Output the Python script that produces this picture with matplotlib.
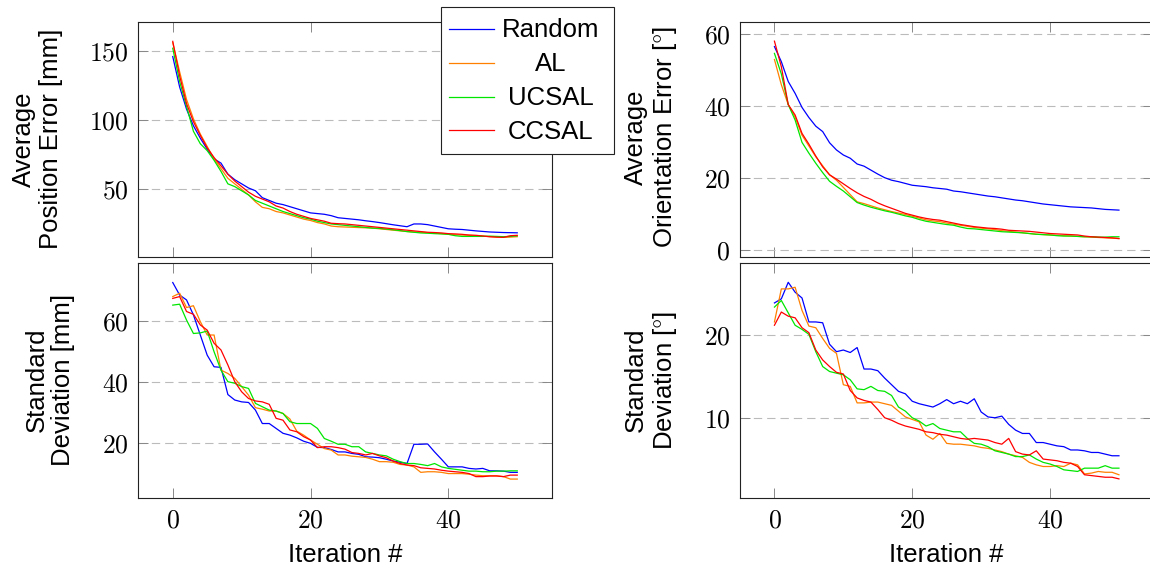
import matplotlib
matplotlib.use("Agg")
import matplotlib.pyplot as plt
from matplotlib.ticker import MultipleLocator, FuncFormatter
from matplotlib.lines import Line2D
from matplotlib.patches import Rectangle
import numpy as np

# iteration index 0..50
iterations = np.arange(51)
methods = ["Random", "AL", "UCSAL", "CCSAL"]
colors = ["#0000ff", "#ff8000", "#00e600", "#ff0000"]

# average position error [mm]
pos_mean_random = [146, 124, 108, 96, 87, 79, 72, 69, 61, 57, 54, 51, 49, 44, 42, 40, 39, 37.5, 36, 34.5,
                   33, 32.5, 32, 31, 29.5, 29, 28.5, 28, 27.3, 26.7, 26, 25.2, 24.4, 23.7, 23, 25, 25, 24.5, 23.5, 22.5,
                   21.5, 21.2, 21, 20.5, 20, 19.6, 19.2, 19, 18.8, 18.7, 18.6]
pos_mean_al = [156, 135, 115, 101, 90, 81, 72, 65, 58, 54, 50, 46, 41, 37, 36, 34, 33, 31.5, 30, 28.5,
               27.5, 26, 25, 23.5, 23, 22.8, 22.6, 22.4, 22.2, 22, 21.5, 21, 20.5, 20, 19.5, 19.2, 19, 18.7, 18.4, 18,
               17.5, 17.2, 17, 16.8, 16.5, 16.2, 15.8, 15.5, 15.3, 15.5, 15.8]
pos_mean_ucsal = [152, 128, 110, 92, 83, 78, 71, 63, 54, 52, 49, 46, 42, 40, 38, 36, 34, 32.5, 31, 29.5,
                  28.5, 27, 26, 25, 24.5, 24, 23.5, 23, 22.5, 22, 21.8, 21.3, 20.8, 20.2, 19.5, 19, 18.5, 18.3, 18, 17.8,
                  17.5, 16.5, 16, 16, 16, 16, 16.2, 16, 15.8, 16, 16.4]
pos_mean_ccsal = [157, 132, 112, 99, 89, 80, 73, 67, 61, 56, 52, 48, 45, 43, 41, 38, 36.5, 34, 32, 30.5,
                  29, 28, 27, 25.5, 25.2, 25, 24.5, 24, 23.5, 23, 22.5, 22, 21.5, 21, 20.5, 20, 19.5, 19, 18.8, 18.5,
                  18, 17.8, 17.5, 17, 16.8, 16.3, 15.8, 15.5, 15.3, 16.5, 16.8]

# average orientation error [deg]
ori_mean_random = [56.6, 52.4, 46.9, 43.6, 39.7, 36.9, 34.5, 33, 29.9, 27.9, 26.5, 25.6, 24, 23.4, 22.3, 21.2, 20.2, 19.5, 19.1, 18.6,
                   18.1, 17.9, 17.7, 17.4, 17.2, 17, 16.5, 16.3, 16, 15.7, 15.4, 15.1, 14.9, 14.6, 14.3, 14, 13.8, 13.5, 13.2, 12.9,
                   12.7, 12.5, 12.3, 12.1, 12, 11.9, 11.8, 11.6, 11.4, 11.3, 11.2]
ori_mean_al = [53, 46, 40.5, 37, 32, 29, 26, 23.5, 21, 19.5, 17.5, 15.5, 13.5, 13, 12.4, 11.8, 11.3, 10.8, 10.4, 10,
               9.5, 9, 8.5, 8.2, 8, 7.6, 7.3, 7, 6.7, 6.4, 6.2, 6, 5.8, 5.5, 5.3, 5.1, 4.9, 4.7, 4.5, 4.4,
               4.3, 4.2, 4.1, 4, 3.9, 3.8, 3.7, 3.6, 3.5, 3.4, 3.3]
ori_mean_ucsal = [54.7, 49, 40.5, 36.2, 30, 27, 24.2, 21.6, 19.2, 17.8, 16.5, 14.9, 13.3, 12.6, 12, 11.5, 11, 10.6, 10.1, 9.6,
                  9.2, 8.6, 8.1, 7.8, 7.5, 7.2, 7, 6.5, 6.1, 6, 5.8, 5.6, 5.4, 5.2, 5.1, 5, 4.9, 4.7, 4.5, 4.4,
                  4.3, 4.1, 4, 4, 3.9, 3.8, 3.8, 3.7, 3.7, 3.8, 3.8]
ori_mean_ccsal = [58.1, 51, 40.5, 37.6, 32.5, 29.5, 26.2, 23.2, 21, 19.8, 18.5, 17.2, 16, 15, 14.2, 13.2, 12.4, 11.7, 11, 10.3,
                  9.8, 9.3, 8.9, 8.6, 8.4, 8, 7.6, 7.2, 6.9, 6.6, 6.4, 6.2, 6.1, 5.9, 5.6, 5.5, 5.4, 5.3, 5.1, 4.9,
                  4.7, 4.6, 4.5, 4.4, 4.3, 4, 3.8, 3.7, 3.6, 3.5, 3.3]

# standard deviation of position error [mm]
pos_std_random = [72.5, 68.4, 66.8, 61.9, 55.3, 48.7, 44.9, 44.7, 35.8, 34, 33.4, 33.2, 30.7, 26.3, 26.3, 24.7, 23.1, 22.5, 21.6, 20.5,
                  19.8, 18.5, 18.4, 17.8, 17, 17, 16.5, 16.2, 15.4, 15.3, 15.1, 14.6, 14, 13.6, 13.2, 19.5, 19.5, 19.6, 17, 14.6,
                  12.1, 12.1, 12.1, 11.6, 11.4, 11.6, 10.8, 10.8, 10.7, 10.3, 10.3]
pos_std_al = [67.9, 69, 64.3, 64.9, 59.7, 55.3, 55.3, 43.8, 42.7, 41.1, 38.4, 35.6, 31.5, 31, 30.4, 30.4, 29.6, 27.8, 23.8, 22.5,
              20.9, 19.5, 18.1, 17.6, 16, 16, 15.6, 15.4, 15.2, 14.6, 13.8, 13.8, 13.6, 12.9, 12.7, 12.1, 10.3, 10.5, 10.5, 10.3,
              9.9, 9.9, 9.9, 9.7, 9.4, 9.2, 9.2, 9.2, 8.9, 8.1, 8.1]
pos_std_ucsal = [65.1, 65.4, 60.2, 55.8, 56, 56.6, 49.8, 43.8, 40, 39.5, 38.4, 37.8, 32.9, 31.8, 30.7, 30.4, 29.6, 26.9, 26.3, 26.3,
                 26.3, 24.7, 21.4, 20.5, 19.5, 19.5, 18.7, 18.7, 17, 16.5, 16, 15.7, 14.6, 13.8, 13.2, 13.2, 12.9, 12.5, 13.2, 12.1,
                 11.6, 11.3, 11, 10.7, 10.7, 10.5, 10.5, 10.7, 10.7, 10.8, 10.8]
pos_std_ccsal = [67.3, 67.9, 63, 62.1, 58.6, 56.9, 52.6, 50.4, 45.5, 40, 36.7, 34.5, 33.7, 33.4, 32.6, 28, 27.4, 24.2, 23.6, 22,
                 20.9, 18.4, 18.7, 18.7, 18.4, 17.9, 16.8, 16.5, 16, 16.5, 15.7, 15.1, 14, 13.2, 12.7, 12.5, 11.8, 11.6, 11.4, 11,
                 10.7, 10.5, 10.3, 9.9, 8.9, 8.9, 9.1, 9.1, 8.9, 9.4, 9.4]

# standard deviation of orientation error [deg]
ori_std_random = [23.9, 24.4, 26.4, 25.2, 24.5, 21.6, 21.6, 21.5, 18.9, 18, 18.2, 17.9, 18.5, 15.9, 15.9, 15.7, 14.8, 14, 13.2, 12.9,
                  12, 11.7, 11.5, 11.3, 11.7, 12.2, 11.7, 12, 11.7, 12.3, 10.7, 10.1, 10, 10.2, 9.2, 8.5, 8.1, 8.1, 7, 7,
                  6.8, 6.6, 6.5, 6.1, 6.1, 6, 5.8, 5.8, 5.6, 5.4, 5.4]
ori_std_al = [21.6, 25.6, 25.6, 25.8, 23, 21.1, 20.9, 19.6, 18.4, 17.8, 14, 13.8, 11.8, 11.8, 11.9, 11.9, 11.7, 11.5, 10.8, 10.1,
              9.8, 9.5, 7.9, 7.4, 8.1, 6.9, 6.8, 6.8, 6.7, 6.6, 6.4, 6.3, 6.1, 5.9, 5.6, 5.4, 5.2, 4.6, 4.3, 4.1,
              4.1, 4.2, 4.1, 4.5, 4.3, 3.2, 3.3, 3.5, 3.4, 3.4, 3.1]
ori_std_ucsal = [23.4, 24.2, 22.7, 21.2, 20.7, 20.1, 18, 16.2, 15.6, 15.4, 15.2, 14.6, 13.5, 13.4, 13.8, 13.3, 13.2, 12.7, 11.3, 10.8,
                 10, 9.6, 9, 9.3, 8.7, 8.5, 8.3, 8.3, 7.5, 6.9, 6.8, 6.5, 6, 5.8, 5.6, 5.3, 5.3, 5.5, 5, 4.6,
                 4.4, 4.1, 3.7, 3.6, 3.5, 3.9, 3.9, 3.9, 4.2, 3.9, 3.9]
ori_std_ccsal = [21.2, 22.8, 22.3, 22.1, 20.9, 20.3, 18.2, 17, 16.2, 15.5, 15.3, 13.3, 12.4, 12.1, 11.9, 11, 10, 9.7, 9.3, 9,
                 8.8, 8.6, 8.3, 8.2, 8, 7.9, 7.7, 7.5, 7.4, 7.5, 7.4, 7.3, 7, 6.8, 7.5, 5.9, 5.6, 5.5, 6, 5,
                 4.9, 4.8, 4.6, 4.5, 4.1, 3.1, 3, 2.9, 2.8, 2.8, 2.6]

plt.rcParams['font.family'] = ['Liberation Sans', 'DejaVu Sans']
plt.rcParams['mathtext.fontset'] = 'cm'
plt.rcParams['lines.scale_dashes'] = False
FS = 18.5

fig = plt.figure(figsize=(11.5, 5.7), dpi=100)

W, H = 1150.0, 570.0
def px_axes(x0, y0, x1, y1):
	# pixel box (top-left origin) -> figure axes
	return fig.add_axes([x0 / W, 1 - y1 / H, (x1 - x0) / W, (y1 - y0) / H])

ax_pm = px_axes(138.3, 21.7, 551.7, 257.3)
ax_om = px_axes(740.0, 21.7, 1153.4, 257.3)
ax_ps = px_axes(138.3, 263.3, 551.7, 498.3)
ax_os = px_axes(740.0, 263.3, 1153.4, 498.3)

panels = [
	(ax_pm, [pos_mean_random, pos_mean_al, pos_mean_ucsal, pos_mean_ccsal], (0.9, 171.2), 50),
	(ax_om, [ori_mean_random, ori_mean_al, ori_mean_ucsal, ori_mean_ccsal], (-1.9, 63.5), 20),
	(ax_ps, [pos_std_random, pos_std_al, pos_std_ucsal, pos_std_ccsal], (1.8, 78.8), 20),
	(ax_os, [ori_std_random, ori_std_al, ori_std_ucsal, ori_std_ccsal], (0.25, 28.7), 10),
]

tickfmt = FuncFormatter(lambda v, p: r'$%g$' % v)

for ax, series, ylim, step in panels:
	for vals, c, name in zip(series, colors, methods):
		ax.plot(iterations, vals, color=c, lw=0.9, label=name)
	ax.set_xlim(-5, 55)
	ax.set_ylim(*ylim)
	ax.xaxis.set_major_locator(MultipleLocator(20))
	ax.yaxis.set_major_locator(MultipleLocator(step))
	ax.xaxis.set_major_formatter(tickfmt)
	ax.yaxis.set_major_formatter(tickfmt)
	ax.tick_params(direction='in', length=7.5, width=0.7, color='#888888',
				   top=True, right=True, labelsize=FS, pad=7)
	ax.yaxis.grid(True, color='#bbbbbb', lw=0.8, linestyle=(0, (6, 3.6)))
	ax.set_axisbelow(True)
	for s in ax.spines.values():
		s.set_linewidth(0.8)
		s.set_color('#222222')

for ax in (ax_pm, ax_om):
	ax.tick_params(labelbottom=False)

for ax in (ax_ps, ax_os):
	ax.set_xlabel('Iteration #', fontsize=FS, labelpad=8)

# y labels (two lines, centred)
ylabels = [
	("Average\nPosition Error [mm]", 37.5, 139),
	("Standard\nDeviation [mm]", 50.0, 380),
	("Average\nOrientation Error [$\\degree$]", 651.5, 137),
	("Standard\nDeviation [$\\degree$]", 651.5, 380),
]
for txt, px, py in ylabels:
	fig.text(px / W, 1 - py / H, txt, rotation=90, ha='center', va='center',
			 multialignment='center', fontsize=FS, linespacing=1.15)

# legend box drawn on the figure, with centred entries
fig.patches.append(Rectangle((441 / W, 1 - 154 / H), 173 / W, 147 / H, transform=fig.transFigure,
							 facecolor='white', edgecolor='#222222', lw=0.8, zorder=5))
for i, (name, c) in enumerate(zip(methods, colors)):
	ly = 28.5 + 34 * i
	fig.lines.append(Line2D([449 / W, 494 / W], [1 - ly / H, 1 - ly / H], transform=fig.transFigure,
							color=c, lw=0.9, zorder=6))
	fig.text(551 / W, 1 - (36.7 + 34 * i) / H, name, ha='center', va='baseline', fontsize=FS, zorder=6)

fig.savefig('out.png', dpi=100)
